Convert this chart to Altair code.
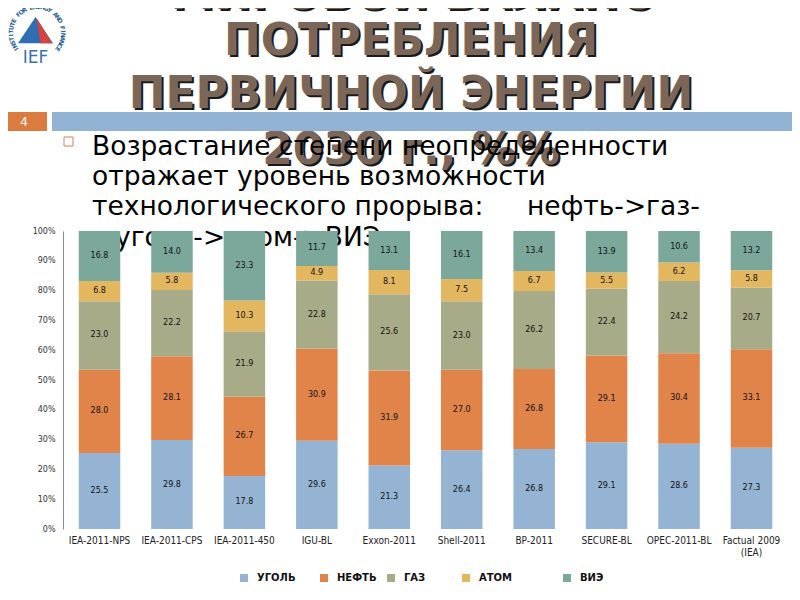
import math
import altair as alt
import pandas as pd

# ---------------- data ----------------
models = ["IEA-2011-NPS", "IEA-2011-CPS", "IEA-2011-450", "IGU-BL", "Exxon-2011",
          "Shell-2011", "BP-2011", "SECURE-BL", "OPEC-2011-BL", "Factual 2009 (IEA)"]
series = ["УГОЛЬ", "НЕФТЬ", "ГАЗ", "АТОМ", "ВИЭ"]
coal = [25.5, 29.8, 17.8, 29.6, 21.3, 26.4, 26.8, 29.1, 28.6, 27.3]
oil = [28.0, 28.1, 26.7, 30.9, 31.9, 27.0, 26.8, 29.1, 30.4, 33.1]
gas = [23.0, 22.2, 21.9, 22.8, 25.6, 23.0, 26.2, 22.4, 24.2, 20.7]
nuclear = [6.8, 5.8, 10.3, 4.9, 8.1, 7.5, 6.7, 5.5, 6.2, 5.8]
renew = [16.8, 14.0, 23.3, 11.7, 13.1, 16.1, 13.4, 13.9, 10.6, 13.2]
colors = ["#95B4D3", "#E0844A", "#A7AB88", "#E3B660", "#7BA89B"]
y_ticks = [0, 0.1, 0.2, 0.3, 0.4, 0.5, 0.6, 0.7, 0.8, 0.9, 1.0]

title_lines = ["МИРОВОЙ БАЛАНС", "ПОТРЕБЛЕНИЯ", "ПЕРВИЧНОЙ ЭНЕРГИИ", "2030 г., %%"]
bullet_lines = ["Возрастание степени неопределенности",
                "отражает уровень возможности",
                "технологического прорыва:"]
bullet_tail = "нефть->газ-"
bullet_last = "уголь->атом->ВИЭ"
logo_arc = "INSTITUTE FOR ENERGY AND FINANCE"

# legend layout (page x of each symbol's left edge)
legend_left = [240, 320, 387, 462, 563]

rows = []
for s_i, (name, vals) in enumerate(zip(series, [coal, oil, gas, nuclear, renew])):
    for m, v in zip(models, vals):
        rows.append({"model": m, "series": name, "order": s_i, "value": v})
df = pd.DataFrame(rows)
one = pd.DataFrame({"a": [0]})

# plot origin in page pixels (for slide decorations)
OX, OY = 63, 231
def px(x):
    return x - OX
def py(y):
    return y - OY

# ---------------- bar chart ----------------
base = alt.Chart(df).transform_stack(
    stack="value", groupby=["model"], as_=["v0", "v1"],
    sort=[alt.SortField("order", order="ascending")], offset="normalize"
)

x_axis = alt.Axis(title=None, domain=False, ticks=False, labelAngle=0,
                  labelPadding=6, labelFontSize=10,
                  labelFont="DejaVu Sans Condensed, Liberation Sans Narrow, DejaVu Sans",
                  labelColor="#222", labelOverlap=False, labelLimit=0,
                  labelExpr="datum.label == 'Factual 2009 (IEA)' ? ['Factual 2009', '(IEA)'] : datum.label")
y_axis = alt.Axis(title=None, format=".0%", values=y_ticks, tickCount=11,
                  grid=False, ticks=False, domainColor="#8c8c8c",
                  labelOverlap=False, labelPadding=8, labelFontSize=8,
                  labelColor="#333", labelFont="DejaVu Sans")
x_scale = alt.Scale(paddingInner=0.427, paddingOuter=0.2175)
y_scale = alt.Scale(domain=[0, 1])

bars = base.mark_bar().encode(
    x=alt.X("model:N", sort=models, scale=x_scale, axis=x_axis),
    y=alt.Y("v0:Q", scale=y_scale, axis=y_axis),
    y2="v1:Q",
    color=alt.Color("series:N", sort=series,
                    scale=alt.Scale(domain=series, range=colors), legend=None),
    order=alt.Order("order:Q"),
)

labels = base.transform_calculate(
    mid="(datum.v0 + datum.v1) / 2", lab="format(datum.value, '.1f')"
).mark_text(font="DejaVu Sans", fontSize=8, color="#111").encode(
    x=alt.X("model:N", sort=models, scale=x_scale, axis=x_axis),
    y=alt.Y("mid:Q", scale=y_scale, axis=y_axis),
    text="lab:N",
)

# ---------------- slide decorations ----------------
back = []

# title (shadow + text)
title_base = [9, 55, 108, 164]
for line, yb in zip(title_lines, title_base):
    for dx, col in [(2, "#1a1a1a"), (0, "#7B665A")]:
        back.append(alt.Chart(one).mark_text(
            text=line, font="DejaVu Sans", fontWeight="bold", fontSize=44,
            color=col, align="center", baseline="alphabetic"
        ).encode(x=alt.value(px(411 + dx)), y=alt.value(py(yb + dx))))

# orange page-number box and blue band
back.append(alt.Chart(one).mark_rect(color="#DB7B3F").encode(
    x=alt.value(px(8)), x2=alt.value(px(47)), y=alt.value(py(112)), y2=alt.value(py(131))))
back.append(alt.Chart(one).mark_rect(color="#92B3D3").encode(
    x=alt.value(px(52)), x2=alt.value(px(792)), y=alt.value(py(112)), y2=alt.value(py(131))))
back.append(alt.Chart(one).mark_text(
    text="4", font="DejaVu Sans", fontSize=12, color="white", align="center", baseline="middle"
).encode(x=alt.value(px(24)), y=alt.value(py(122))))

# bullet square
back.append(alt.Chart(one).mark_rect(fill="white", stroke="#C8845A", strokeWidth=1).encode(
    x=alt.value(px(64)), x2=alt.value(px(73)), y=alt.value(py(137)), y2=alt.value(py(146))))

# bullet text
for line, yb in zip(bullet_lines, [155, 185, 215]):
    back.append(alt.Chart(one).mark_text(
        text=line, font="DejaVu Sans", fontSize=26.5, color="#000", align="left",
        baseline="alphabetic"
    ).encode(x=alt.value(px(92)), y=alt.value(py(yb))))
back.append(alt.Chart(one).mark_text(
    text=bullet_tail, font="DejaVu Sans", fontSize=26.5, color="#000", align="left",
    baseline="alphabetic"
).encode(x=alt.value(px(527)), y=alt.value(py(215))))
back.append(alt.Chart(one).mark_text(
    text=bullet_last, font="DejaVu Sans", fontSize=26.5, color="#000", align="left",
    baseline="alphabetic"
).encode(x=alt.value(px(115)), y=alt.value(py(246))))

# logo
back.append(alt.Chart(one).mark_point(
    shape="M0,-0.75L1,0.75L-1,0.75Z", filled=True, color="#2F6EB0", opacity=1, size=1225
).encode(x=alt.value(px(35.5)), y=alt.value(py(30))))
back.append(alt.Chart(one).mark_point(
    shape="M0.05,-0.7L0.95,0.75L0.3,0.75Z", filled=True, color="#D9413A", opacity=1, size=1225
).encode(x=alt.value(px(35.5)), y=alt.value(py(30))))
back.append(alt.Chart(one).mark_text(
    text="IEF", font="DejaVu Sans", fontSize=17, color="#3A6FB5", align="center",
    baseline="alphabetic"
).encode(x=alt.value(px(35.5)), y=alt.value(py(63))))
cx, cy, r = 37, 33, 26
n = len(logo_arc)
for i, ch in enumerate(logo_arc):
    if ch == " ":
        continue
    th = -128 + 256 * i / (n - 1)
    ang = (th + 360) % 360
    xx = cx + r * math.sin(math.radians(th))
    yy = cy - r * math.cos(math.radians(th))
    back.append(alt.Chart(one).mark_text(
        text=ch, font="DejaVu Sans", fontWeight="bold", fontSize=6, color="#2B5F94",
        align="center", baseline="middle", angle=ang
    ).encode(x=alt.value(px(xx)), y=alt.value(py(yy))))

# legend (built from the series names and colours)
legend_layers = []
for name, col, lx in zip(series, colors, legend_left):
    legend_layers.append(alt.Chart(one).mark_square(size=64, color=col, opacity=1).encode(
        x=alt.value(px(lx + 4)), y=alt.value(py(578))))
    legend_layers.append(alt.Chart(one).mark_text(
        text=name, font="DejaVu Sans", fontWeight="bold", fontSize=10, color="#111",
        align="left", baseline="middle"
    ).encode(x=alt.value(px(lx + 17)), y=alt.value(py(578))))

chart = alt.layer(*back, bars, labels, *legend_layers).properties(
    width=725, height=298,
    padding={"left": 55, "top": 223, "right": 4, "bottom": 57},
    autosize=alt.AutoSizeParams(type="none"),
).configure_view(stroke=None)

chart.save("out.html", embed_options={"renderer": "svg", "actions": False})
